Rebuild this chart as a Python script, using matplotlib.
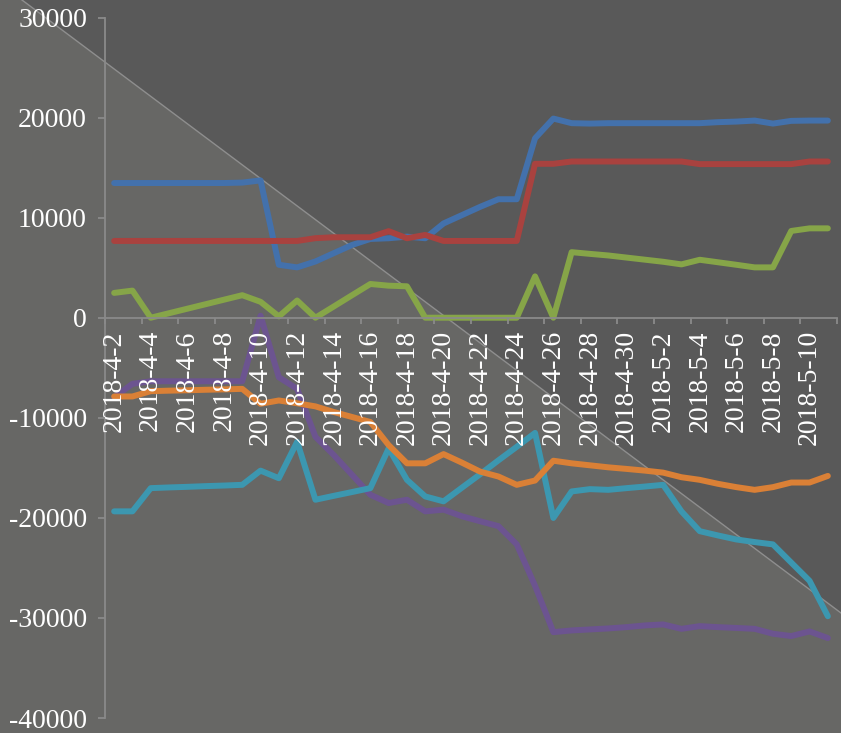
import matplotlib
matplotlib.use("Agg")
import matplotlib.pyplot as plt
from matplotlib.patches import Polygon
from matplotlib.lines import Line2D
from matplotlib.ticker import FixedLocator, FixedFormatter, NullFormatter

# Daily categories, 2018-4-2 .. 2018-5-11
dates = ["2018-4-2", "2018-4-3", "2018-4-4", "2018-4-5", "2018-4-6", "2018-4-7",
         "2018-4-8", "2018-4-9", "2018-4-10", "2018-4-11", "2018-4-12", "2018-4-13",
         "2018-4-14", "2018-4-15", "2018-4-16", "2018-4-17", "2018-4-18", "2018-4-19",
         "2018-4-20", "2018-4-21", "2018-4-22", "2018-4-23", "2018-4-24", "2018-4-25",
         "2018-4-26", "2018-4-27", "2018-4-28", "2018-4-29", "2018-4-30", "2018-5-1",
         "2018-5-2", "2018-5-3", "2018-5-4", "2018-5-5", "2018-5-6", "2018-5-7",
         "2018-5-8", "2018-5-9", "2018-5-10", "2018-5-11"]

s_blue = [13460, 13460, 13460, 13460, 13460, 13460, 13460, 13500, 13720, 5290,
          5030, 5620, 6450, 7270, 7870, 7940, 8100, 7940, 9420, 10250,
          11080, 11840, 11840, 17930, 19900, 19440, 19400, 19440, 19440, 19440,
          19440, 19440, 19440, 19540, 19600, 19700, 19400, 19670, 19700, 19700]

s_red = [7670, 7670, 7670, 7670, 7670, 7670, 7670, 7670, 7670, 7670,
         7670, 7950, 8040, 8040, 8040, 8650, 7940, 8270, 7670, 7670,
         7670, 7670, 7670, 15380, 15380, 15610, 15610, 15610, 15610, 15610,
         15610, 15610, 15350, 15350, 15350, 15350, 15350, 15350, 15610, 15610]

s_green = [2480, 2710, 0, 450, 900, 1350, 1800, 2250, 1590, 130,
           1720, 0, 1120, 2250, 3370, 3200, 3140, 0, 0, 0,
           0, 0, 0, 4130, 0, 6550, 6380, 6220, 6010, 5800,
           5590, 5330, 5790, 5540, 5290, 5030, 5030, 8670, 8930, 8930]

s_purple = [-7940, -6610, -6350, -6350, -6350, -6350, -6350, -6350, 200, -5950,
            -7110, -11900, -13720, -15700, -17690, -18520, -18190, -19350, -19180, -19840,
            -20340, -20830, -22650, -26790, -31420, -31250, -31150, -31050, -30920, -30750,
            -30650, -31090, -30820, -30920, -31000, -31090, -31580, -31810, -31350, -32010]

s_cyan = [-19350, -19350, -17030, -16960, -16900, -16830, -16770, -16700, -15280, -16040,
          -12400, -18190, -17800, -17420, -17030, -13060, -16200, -17860, -18350, -16990,
          -15640, -14250, -12900, -11510, -20010, -17360, -17130, -17200, -17030, -16870,
          -16700, -19350, -21330, -21760, -22160, -22420, -22650, -24470, -26290, -29830]

s_orange = [-7870, -7870, -7340, -7290, -7250, -7200, -7160, -7110, -8600, -8270,
            -8550, -8860, -9420, -9920, -10420, -12730, -14550, -14550, -13630, -14480,
            -15380, -15870, -16700, -16270, -14290, -14550, -14750, -14950, -15110, -15280,
            -15480, -15940, -16200, -16600, -16930, -17200, -16930, -16470, -16470, -15810]

series = [s_blue, s_red, s_green, s_purple, s_cyan, s_orange]
colors = ["#4371AC", "#A9423F", "#86A548", "#6C5490", "#3C97B0", "#DA8036"]

y_ticks = [-40000, -30000, -20000, -10000, 0, 10000, 20000, 30000]
y_labels = ["-40000", "-30000", "-20000", "-10000", "0", "10000", "20000", "30000"]

W, H = 841, 733
fig = plt.figure(figsize=(W / 100, H / 100), dpi=100)
fig.patch.set_facecolor("#595959")

# lighter lower-left panel with a thin diagonal edge
fig.add_artist(Polygon([(0, 0), (0, 1), (22 / W, 1), (1, 1 - 613 / H), (1, 0)],
                       closed=True, transform=fig.transFigure,
                       facecolor="#676765", edgecolor="none", zorder=-3))
fig.add_artist(Line2D([22 / W, 1], [1, 1 - 613 / H], transform=fig.transFigure,
                      color="#8e8e8e", lw=1.0, zorder=-2))

ax = fig.add_axes([105 / W, 1 - 718 / H, (837 - 105) / W, (718 - 17.5) / H])
ax.set_facecolor("none")

x = list(range(len(dates)))
for vals, c in zip(series, colors):
    ax.plot(x, vals, color=c, lw=4.3, solid_capstyle="round",
            solid_joinstyle="round", zorder=2)

ax.set_xlim(-0.5, len(dates) - 0.5)
ax.set_ylim(-40000, 30000)

axis_gray = "#8a8a8a"
for side in ("top", "right"):
    ax.spines[side].set_visible(False)
ax.spines["left"].set_color(axis_gray)
ax.spines["left"].set_linewidth(1.3)
ax.spines["bottom"].set_position(("data", 0))
ax.spines["bottom"].set_color(axis_gray)
ax.spines["bottom"].set_linewidth(1.3)

label_font = dict(family="Liberation Serif", size=20, color="white")

# x: tick marks between every second category, labels on every second date
ax.xaxis.set_major_locator(FixedLocator([i - 0.5 for i in range(0, len(dates) + 1, 2)]))
ax.xaxis.set_major_formatter(NullFormatter())
ax.xaxis.set_minor_locator(FixedLocator(x[::2]))
ax.xaxis.set_minor_formatter(FixedFormatter(dates[::2]))
ax.tick_params(axis="x", which="major", direction="out", length=4, width=1.3,
               color=axis_gray)
ax.tick_params(axis="x", which="minor", length=0, pad=9)
for lab in ax.xaxis.get_minorticklabels():
    lab.set_rotation(90)
    lab.set_fontfamily("Liberation Serif")
    lab.set_fontsize(20)
    lab.set_color("white")

ax.set_yticks(y_ticks)
ax.set_yticklabels(y_labels, **label_font)
ax.tick_params(axis="y", direction="out", length=5, width=1.3, color=axis_gray, pad=8)

ax.set_axisbelow(False)

fig.savefig("out.png", dpi=100, facecolor=fig.get_facecolor())
